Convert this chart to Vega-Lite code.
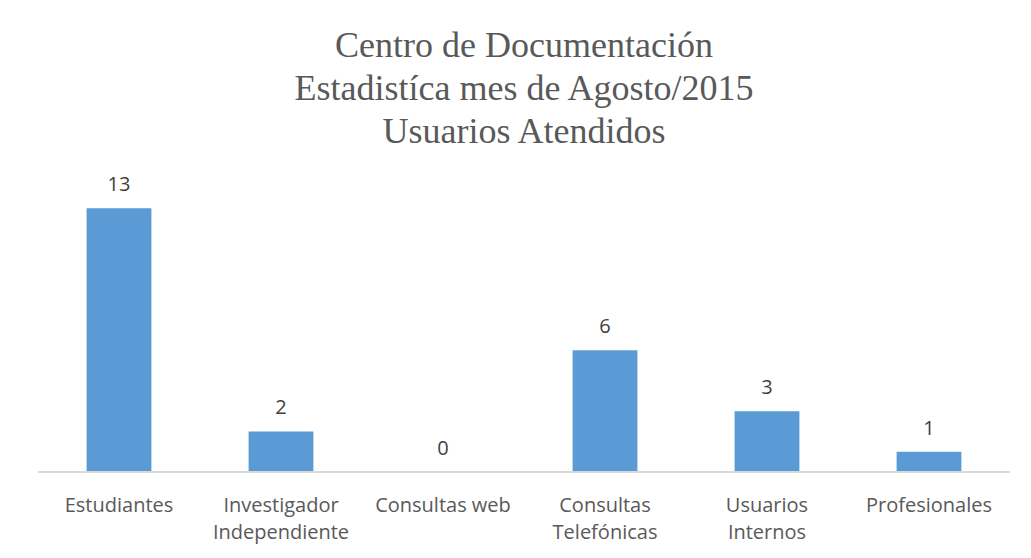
{
  "$schema": "https://vega.github.io/schema/vega-lite/v6.json",
  "autosize": "none",
  "width": 972,
  "height": 284,
  "padding": {"left": 38, "top": 188, "right": 21, "bottom": 86},
  "background": "white",
  "title": {
    "text": ["Centro de Documentación", "Estadistíca mes de Agosto/2015", "Usuarios Atendidos"],
    "font": "Liberation Serif",
    "fontSize": 36,
    "fontWeight": "normal",
    "color": "#595959",
    "lineHeight": 43,
    "anchor": "middle",
    "offset": 24
  },
  "data": {
    "values": [
      {"categoria": "Estudiantes", "usuarios": 13},
      {"categoria": "Investigador Independiente", "usuarios": 2},
      {"categoria": "Consultas web", "usuarios": 0},
      {"categoria": "Consultas Telefónicas", "usuarios": 6},
      {"categoria": "Usuarios Internos", "usuarios": 3},
      {"categoria": "Profesionales", "usuarios": 1}
    ]
  },
  "layer": [
    {
      "mark": {"type": "bar", "color": "#5B9BD5"},
      "encoding": {
        "x": {
          "field": "categoria",
          "type": "nominal",
          "sort": null,
          "scale": {"paddingInner": 0.6, "paddingOuter": 0.3},
          "axis": {
            "title": null,
            "labelAngle": 0,
            "ticks": false,
            "tickSize": 0,
            "domain": false,
            "labelFont": "Open Sans",
            "labelFontSize": 20,
            "labelColor": "#595959",
            "labelBaseline": "alphabetic",
            "labelPadding": 39,
            "labelLineHeight": 27,
            "labelLimit": 300,
            "labelExpr": "datum.label == 'Estudiantes' || datum.label == 'Consultas web' || datum.label == 'Profesionales' ? datum.label : split(datum.label, ' ')"
          }
        },
        "y": {
          "field": "usuarios",
          "type": "quantitative",
          "scale": {"domain": [0, 14], "nice": false},
          "axis": null
        }
      }
    },
    {
      "mark": {
        "type": "text",
        "baseline": "alphabetic",
        "dy": -17,
        "font": "Open Sans",
        "fontSize": 20,
        "color": "#404040"
      },
      "encoding": {
        "x": {"field": "categoria", "type": "nominal", "sort": null},
        "y": {"field": "usuarios", "type": "quantitative"},
        "text": {"field": "usuarios", "type": "quantitative"}
      }
    },
    {
      "mark": {"type": "rule", "color": "#D9D9D9", "strokeWidth": 1},
      "encoding": {"y": {"datum": 0, "type": "quantitative"}}
    }
  ],
  "config": {"view": {"stroke": null}}
}
